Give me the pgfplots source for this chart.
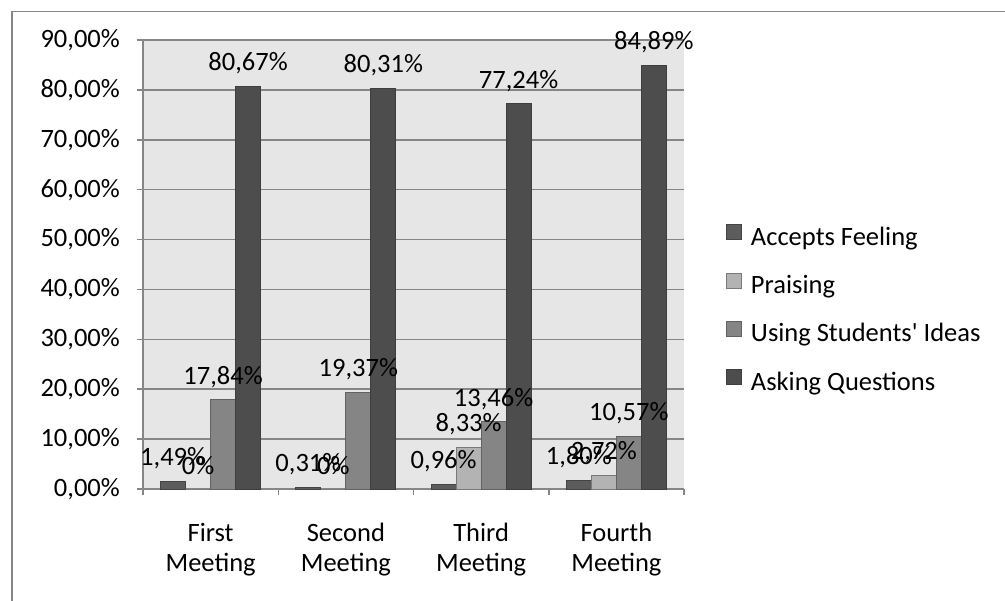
\documentclass[border=0pt]{standalone}
\usepackage{fontspec}
\setmainfont{Carlito}
\newfontfamily\plainfont{Carlito}[Ligatures=TeXOff]
\usepackage{pgfplots}
\pgfplotsset{compat=1.18}
\definecolor{bgplot}{HTML}{E6E6E6}
\definecolor{gridc}{HTML}{868686}
\definecolor{cA}{HTML}{5C5C5C}
\definecolor{cAb}{HTML}{444444}
\definecolor{cP}{HTML}{B3B3B3}
\definecolor{cPb}{HTML}{7A7A7A}
\definecolor{cU}{HTML}{858585}
\definecolor{cUb}{HTML}{626262}
\definecolor{cQ}{HTML}{4D4D4D}
\definecolor{cQb}{HTML}{3E3E3E}
\pgfplotsset{ybar legend/.style={legend image code/.code={\draw[##1,line width=1bp] (0bp,0bp) rectangle (15bp,15bp);}}}
\begin{document}
\begin{tikzpicture}[font=\fontsize{26.5bp}{30bp}\selectfont]
\useasboundingbox (0,0) rectangle (1005bp,601bp);
\draw[gridc,line width=1.5bp] (12bp,-5bp) -- (12bp,589.5bp) -- (1010bp,589.5bp);
\begin{axis}[
  at={(143bp,112bp)}, anchor=south west,
  scale only axis, width=541bp, height=449bp,
  ybar=0pt, bar width=25bp,
  xmin=-0.5, xmax=3.5, ymin=0, ymax=90,
  axis background/.style={fill=bgplot},
  axis x line*=bottom, axis y line*=left,
  axis line style={-, gridc, line width=1.5bp},
  ymajorgrids, major grid style={gridc, line width=1.5bp},
  tick align=outside,
  ytick={0,10,...,90},
  yticklabels={{0,00\%},{10,00\%},{20,00\%},{30,00\%},{40,00\%},{50,00\%},{60,00\%},{70,00\%},{80,00\%},{90,00\%}},
  xtick={0,1,2,3},
  xticklabels={First\\Meeting, Second\\Meeting, Third\\Meeting, Fourth\\Meeting},
  xticklabel style={align=center, anchor=north, inner sep=0pt, yshift=-28bp},
  yticklabel style={anchor=east, inner sep=0pt, xshift=-17bp},
  major x tick style={draw=none},
  minor xtick={-0.5,0.5,1.5,2.5,3.5},
  minor tick length=6bp, major tick length=6bp,
  every tick/.style={gridc, line width=1.5bp},
  /pgf/number format/assume math mode=true,
  point meta=explicit symbolic,
  nodes near coords={\pgfplotspointmeta\%},
  every node near coord/.append style={anchor=center, yshift=23bp, inner sep=0pt, black},
  legend style={draw=none, fill=none, inner sep=0pt, outer sep=0pt,
    at={(1.0776,0.398)}, anchor=west, row sep=21.3bp, column sep=9bp,
    nodes={inner sep=0pt, text height=17bp, text depth=6bp}},
  legend cell align=left,
  clip=false,
]
\addplot[fill=cA, draw=cAb, line width=1bp] coordinates {(0,1.49) [1,49] (1,0.31) [0,31] (2,0.96) [0,96] (3,1.80) [1,80]};
\addlegendentry{Accepts Feeling}
\addplot[fill=cP, draw=cPb, line width=1bp] coordinates {(0,0) [0] (1,0) [0] (2,8.33) [8,33] (3,2.72) [2,72]};
\addlegendentry{Praising}
\addplot[fill=cU, draw=cUb, line width=1bp] coordinates {(0,17.84) [17,84] (1,19.37) [19,37] (2,13.46) [13,46] (3,10.57) [10,57]};
\addlegendentry{Using Students{\plainfont'} Ideas}
\addplot[fill=cQ, draw=cQb, line width=1bp] coordinates {(0,80.67) [80,67] (1,80.31) [80,31] (2,77.24) [77,24] (3,84.89) [84,89]};
\addlegendentry{Asking Questions}
\end{axis}
\end{tikzpicture}
\end{document}
